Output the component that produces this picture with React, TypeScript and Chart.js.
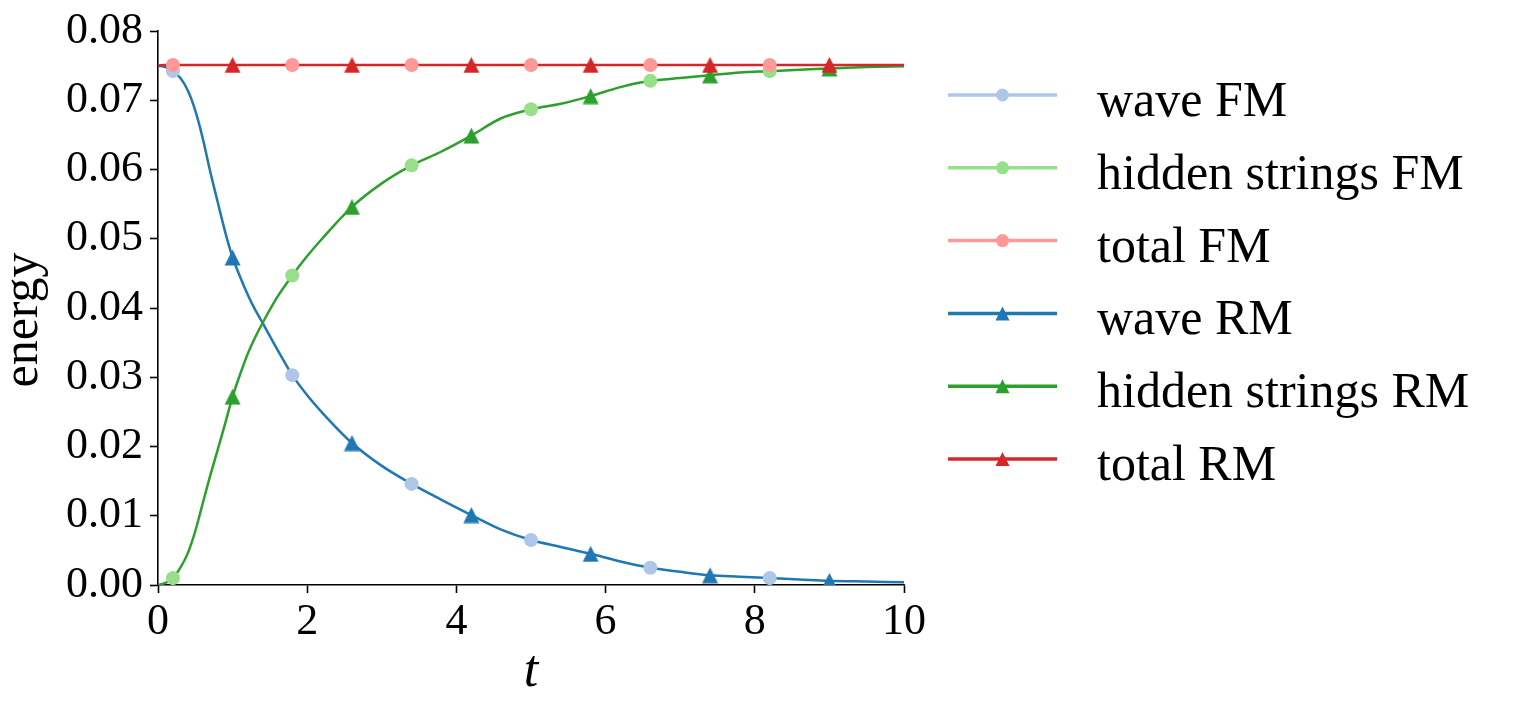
import React, { useEffect, useRef } from "react";
import { Chart, registerables } from "chart.js";

Chart.register(...registerables);

// Time grid of the continuous energy curves
const tCurve = [0, 0.1, 0.2, 0.3, 0.4, 0.5, 0.6, 0.7, 0.8, 0.9, 1.0, 1.1, 1.2, 1.3, 1.4, 1.6, 1.8, 2.0, 2.2, 2.6, 3.0, 3.4, 3.8, 4.2, 4.6, 5.0, 5.4, 5.8, 6.2, 6.6, 7.0, 7.4, 7.8, 8.2, 8.6, 9.0, 9.5, 10];
const waveCurve = [0.075, 0.0748, 0.0742, 0.0732, 0.0714, 0.0685, 0.0645, 0.0597, 0.0553, 0.0510, 0.0473, 0.0445, 0.042, 0.0398, 0.0379, 0.034, 0.0303, 0.0274, 0.0249, 0.0205, 0.0172, 0.0146, 0.0123, 0.0101, 0.008, 0.0065, 0.0055, 0.0045, 0.0034, 0.0025, 0.0019, 0.0014, 0.0012, 0.001, 0.0008, 0.0006, 0.0005, 0.0004];
const hiddenCurve = [0.0, 0.0003, 0.001, 0.0025, 0.0046, 0.0078, 0.0118, 0.0158, 0.0195, 0.0233, 0.0272, 0.0304, 0.0333, 0.0357, 0.0378, 0.0416, 0.0447, 0.0475, 0.05, 0.0546, 0.058, 0.0606, 0.0626, 0.0649, 0.0674, 0.0687, 0.0695, 0.0706, 0.0719, 0.0728, 0.0732, 0.0736, 0.074, 0.0742, 0.0744, 0.0746, 0.0748, 0.0749];
const totalCurve = [0.075, 0.0751, 0.0751, 0.0751, 0.0751, 0.0751, 0.0751, 0.0751, 0.0751, 0.0751, 0.0751, 0.0751, 0.0751, 0.0751, 0.0751, 0.0751, 0.0751, 0.0751, 0.0751, 0.0751, 0.0751, 0.0751, 0.0751, 0.0751, 0.0751, 0.0751, 0.0751, 0.0751, 0.0751, 0.0751, 0.0751, 0.0751, 0.0751, 0.0751, 0.0751, 0.0751, 0.0751, 0.0751];

// FM sample points (circles)
const fmT = [0.2, 1.8, 3.4, 5.0, 6.6, 8.2];
const waveFM = [0.0742, 0.0303, 0.0146, 0.0065, 0.0025, 0.001];
const hiddenFM = [0.001, 0.0447, 0.0606, 0.0687, 0.0728, 0.0742];
const totalFM = [0.0751, 0.0751, 0.0751, 0.0751, 0.0751, 0.0751];

// RM sample points (triangles)
const rmT = [1.0, 2.6, 4.2, 5.8, 7.4, 9.0];
const waveRM = [0.0473, 0.0205, 0.0101, 0.0045, 0.0014, 0.0006];
const hiddenRM = [0.0272, 0.0546, 0.0649, 0.0706, 0.0736, 0.0746];
const totalRM = [0.0751, 0.0751, 0.0751, 0.0751, 0.0751, 0.0751];

const xTicks = [0, 2, 4, 6, 8, 10];
const yTicks = [0, 0.01, 0.02, 0.03, 0.04, 0.05, 0.06, 0.07, 0.08];

const legendLabels = ["wave FM", "hidden strings FM", "total FM", "wave RM", "hidden strings RM", "total RM"];
const legendColors = ["#aec7e8", "#98df8a", "#ff9896", "#1f77b4", "#2ca02c", "#d62728"];
const legendMarkers = ["circle", "circle", "circle", "triangle", "triangle", "triangle"];

const SERIF = '"Liberation Serif", "Times New Roman", serif';

function pts(xs: number[], ys: number[]) {
  return xs.map((x, i) => ({ x, y: ys[i] }));
}

function triangleCanvas(color: string, size: number) {
  const c = document.createElement("canvas");
  c.width = size + 1;
  c.height = size + 1;
  const g = c.getContext("2d")!;
  g.fillStyle = color;
  g.beginPath();
  g.moveTo((size + 1) / 2, 0.5);
  g.lineTo(0.5, size + 0.5);
  g.lineTo(size + 0.5, size + 0.5);
  g.closePath();
  g.fill();
  return c;
}

function drawTriangle(ctx: CanvasRenderingContext2D, x: number, y: number, s: number) {
  ctx.beginPath();
  ctx.moveTo(x, y - s / 2);
  ctx.lineTo(x - s / 2, y + s / 2);
  ctx.lineTo(x + s / 2, y + s / 2);
  ctx.closePath();
  ctx.fill();
}

// Axis titles and the legend on the right-hand side
const decorPlugin = {
  id: "decor",
  afterDraw(chart: any) {
    const ctx: CanvasRenderingContext2D = chart.ctx;
    ctx.save();
    ctx.fillStyle = "#000";

    ctx.save();
    ctx.font = `50px ${SERIF}`;
    ctx.textAlign = "center";
    ctx.textBaseline = "alphabetic";
    ctx.translate(37, 320);
    ctx.rotate(-Math.PI / 2);
    ctx.fillText("energy", 0, 0);
    ctx.restore();

    ctx.font = `italic 52px ${SERIF}`;
    ctx.textAlign = "center";
    ctx.textBaseline = "alphabetic";
    ctx.fillText("t", 531, 686);

    const x0 = 948;
    const x1 = 1057;
    const xm = (x0 + x1) / 2;
    const rowTop = 95;
    const rowStep = 72.8;
    legendLabels.forEach((label, i) => {
      const y = rowTop + i * rowStep;
      ctx.strokeStyle = legendColors[i];
      ctx.lineWidth = 3.5;
      ctx.beginPath();
      ctx.moveTo(x0, y);
      ctx.lineTo(x1, y);
      ctx.stroke();
      ctx.fillStyle = legendColors[i];
      if (legendMarkers[i] === "circle") {
        ctx.beginPath();
        ctx.arc(xm, y, 6.5, 0, Math.PI * 2);
        ctx.fill();
      } else {
        drawTriangle(ctx, xm, y, 14);
      }
      ctx.fillStyle = "#000";
      ctx.font = `50px ${SERIF}`;
      ctx.textAlign = "left";
      ctx.textBaseline = "alphabetic";
      ctx.fillText(label, 1097, y + 21);
    });
    ctx.restore();
  },
};

export default function App() {
  const canvasRef = useRef<HTMLCanvasElement | null>(null);

  useEffect(() => {
    const canvas = canvasRef.current;
    if (!canvas) return;

    const lineBase = {
      showLine: true,
      pointRadius: 0,
      borderWidth: 2.5,
      cubicInterpolationMode: "monotone" as const,
      fill: false,
    };
    const circleBase = {
      showLine: false,
      pointStyle: "circle",
      pointRadius: 7,
      pointBorderWidth: 0,
    };

    const chart = new Chart(canvas, {
      type: "scatter",
      data: {
        datasets: [
          { ...lineBase, label: "wave", data: pts(tCurve, waveCurve), borderColor: "#1f77b4", order: 12 },
          { ...lineBase, label: "hidden strings", data: pts(tCurve, hiddenCurve), borderColor: "#2ca02c", order: 11 },
          { ...lineBase, label: "total", data: pts(tCurve, totalCurve), borderColor: "#d62728", order: 10 },
          { ...circleBase, label: "wave FM", data: pts(fmT, waveFM), backgroundColor: "#aec7e8", pointBackgroundColor: "#aec7e8", order: 6 },
          { ...circleBase, label: "hidden strings FM", data: pts(fmT, hiddenFM), backgroundColor: "#98df8a", pointBackgroundColor: "#98df8a", order: 5 },
          { ...circleBase, label: "total FM", data: pts(fmT, totalFM), backgroundColor: "#ff9896", pointBackgroundColor: "#ff9896", order: 4 },
          { showLine: false, label: "wave RM", data: pts(rmT, waveRM), pointStyle: triangleCanvas("#1f77b4", 16) as any, order: 3 },
          { showLine: false, label: "hidden strings RM", data: pts(rmT, hiddenRM), pointStyle: triangleCanvas("#2ca02c", 16) as any, order: 2 },
          { showLine: false, label: "total RM", data: pts(rmT, totalRM), pointStyle: triangleCanvas("#d62728", 16) as any, order: 1 },
        ] as any,
      },
      options: {
        animation: false,
        responsive: true,
        maintainAspectRatio: false,
        events: [],
        layout: { padding: { top: 31, right: 617, left: 0, bottom: 0 } },
        plugins: {
          legend: { display: false },
          tooltip: { enabled: false },
        },
        scales: {
          x: {
            type: "linear",
            min: 0,
            max: 10,
            afterFit(scale: any) {
              scale.height = 126;
            },
            afterBuildTicks(scale: any) {
              scale.ticks = xTicks.map((v) => ({ value: v }));
            },
            border: { display: true, color: "#000", width: 1.6 },
            grid: { display: true, drawOnChartArea: false, drawTicks: true, tickLength: 8, tickWidth: 1.6, tickColor: "#000" },
            ticks: {
              color: "#000",
              padding: 3,
              font: { family: SERIF, size: 44 },
              callback: (v: any) => String(v),
            },
          },
          y: {
            type: "linear",
            min: 0,
            max: 0.08,
            afterFit(scale: any) {
              scale.width = 158;
              scale.paddingTop = 0;
              scale.paddingBottom = 0;
            },
            afterBuildTicks(scale: any) {
              scale.ticks = yTicks.map((v) => ({ value: v }));
            },
            border: { display: true, color: "#000", width: 1.6 },
            grid: { display: true, drawOnChartArea: false, drawTicks: true, tickLength: 8, tickWidth: 1.6, tickColor: "#000" },
            ticks: {
              color: "#000",
              padding: 7,
              font: { family: SERIF, size: 44, lineHeight: 1 },
              callback: (v: any) => Number(v).toFixed(2),
            },
          },
        },
      } as any,
      plugins: [decorPlugin],
    });

    return () => chart.destroy();
  }, []);

  return (
    <div style={{ position: "absolute", left: 0, top: 0, width: 1521, height: 711, background: "#fff" }}>
      <canvas ref={canvasRef} />
    </div>
  );
}
